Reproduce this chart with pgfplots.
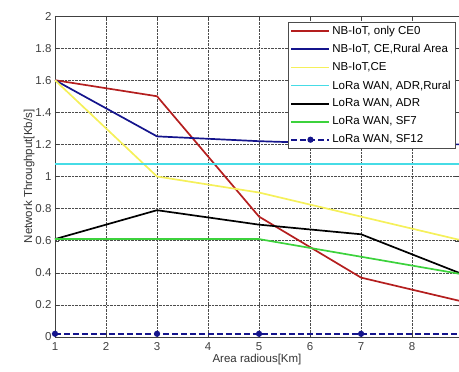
\documentclass[border=0pt]{standalone}
\usepackage{fontspec}
\setmainfont{Liberation Sans}
\usepackage{pgfplots}
\pgfplotsset{compat=1.18}
\definecolor{cred}{RGB}{180,30,30}
\definecolor{cblue}{RGB}{20,20,140}
\definecolor{cyel}{RGB}{245,240,90}
\definecolor{ccyan}{RGB}{70,220,230}
\definecolor{cgreen}{RGB}{60,210,60}
\begin{document}
\begin{tikzpicture}
\begin{axis}[
  scale only axis,
  width=404pt, height=321pt,
  xmin=1, xmax=8.92, ymin=0, ymax=2,
  xtick={1,2,...,8},
  ytick={0,0.2,...,2.01},
  yticklabels={0,0.2,0.4,0.6,0.8,1,1.2,1.4,1.6,1.8,2},
  grid=major,
  major grid style={densely dotted, black!70, line width=0.4pt},
  axis line style={black!75, line width=0.8pt},
  tick style={black!75},
  tick align=inside,
  font=\fontsize{11.5}{13}\selectfont,
  ticklabel style={font=\fontsize{11.5}{13}\selectfont, text=black!75},
  xticklabel style={yshift=-2pt},
  /pgf/number format/assume math mode=true,
  xlabel={Area radious[Km]},
  ylabel={Network Throughput[Kb/s]},
  xlabel style={yshift=3pt, text=black!80},
  ylabel style={yshift=-6pt, text=black!80},
  legend style={at={(0.99,0.982)}, anchor=north east, draw=black!70, fill=white,
    font=\fontsize{11.5}{13}\selectfont, row sep=4.5pt, inner sep=2pt},
  legend cell align=left,
  legend image code/.code={\draw[mark repeat=2,mark phase=2,#1] plot coordinates {(0pt,0pt) (19pt,0pt) (38pt,0pt)};},
  every axis plot/.append style={line width=1.7pt},
]
\addplot[cred] coordinates {(1,1.6) (3,1.5) (5,0.75) (7,0.37) (9,0.22)};
\addlegendentry{NB-IoT, only CE0}
\addplot[cblue] coordinates {(1,1.6) (3,1.25) (5,1.22) (7,1.2) (9,1.2)};
\addlegendentry{NB-IoT, CE,Rural Area}
\addplot[cyel] coordinates {(1,1.6) (3,1.0) (5,0.9) (7,0.75) (9,0.6)};
\addlegendentry{NB-IoT,CE}
\addplot[ccyan] coordinates {(1,1.08) (3,1.08) (5,1.08) (7,1.08) (9,1.08)};
\addlegendentry{LoRa WAN, ADR,Rural}
\addplot[black] coordinates {(1,0.61) (3,0.79) (5,0.7) (7,0.64) (9,0.39)};
\addlegendentry{LoRa WAN, ADR}
\addplot[cgreen] coordinates {(1,0.61) (3,0.61) (5,0.61) (7,0.5) (9,0.39)};
\addlegendentry{LoRa WAN, SF7}
\addplot[cblue, dash pattern=on 6pt off 3pt, mark=*, mark size=2.2pt, mark options={solid}] coordinates {(1,0.02) (3,0.02) (5,0.02) (7,0.02) (9,0.02)};
\addlegendentry{LoRa WAN, SF12}
\coordinate (SW) at (rel axis cs:0,0);
\coordinate (NE) at (rel axis cs:1,1);
\end{axis}
\pgfresetboundingbox
\path[use as bounding box] ([xshift=-55pt,yshift=-35pt]SW) rectangle ([yshift=16pt]NE);
\end{tikzpicture}
\end{document}
